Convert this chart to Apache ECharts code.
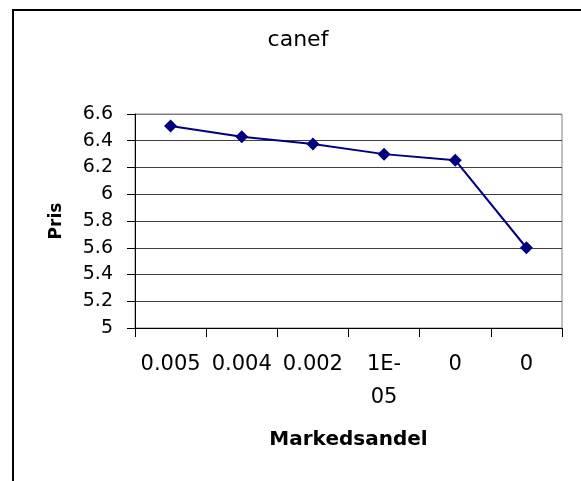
<!DOCTYPE html>
<html>
<head>
<meta charset="utf-8">
<script src="https://cdn.jsdelivr.net/npm/echarts@6/dist/echarts.min.js"></script>
<style>
html,body{margin:0;padding:0;background:#fff;}
#c{width:581px;height:481px;}
</style>
</head>
<body>
<div id="c"></div>
<script>
var titleText = 'canef';
var categories = ['0.005', '0.004', '0.002', '1E-\n05', '0', '0'];
var prices = [6.51, 6.43, 6.375, 6.30, 6.255, 5.60];
var yTicks = { min: 5, max: 6.6, interval: 0.2 };
var xName = 'Markedsandel';
var yName = 'Pris';

var F = 'DejaVu Sans';
var splitColors = [];
for (var i = 0; i < 8; i++) splitColors.push('#404040');
splitColors.push('#808080');

var chart = echarts.init(document.getElementById('c'), null, { renderer: 'canvas' });
chart.setOption({
  backgroundColor: '#ffffff',
  animation: false,
  title: {
    text: titleText,
    left: 298,
    top: 29,
    padding: 0,
    textAlign: 'center',
    textStyle: { fontFamily: F, fontSize: 22, fontWeight: 'normal', color: '#000' }
  },
  grid: {
    left: 135, right: 19, top: 114, bottom: 153,
    show: true, borderColor: '#808080', borderWidth: 1, backgroundColor: 'transparent'
  },
  xAxis: {
    type: 'category',
    data: categories,
    boundaryGap: true,
    name: xName,
    nameLocation: 'middle',
    nameGap: 102,
    nameTextStyle: { fontFamily: F, fontSize: 20, fontWeight: 'bold', color: '#000' },
    axisLine: { lineStyle: { color: '#000', width: 1 } },
    axisTick: { show: true, length: 9, lineStyle: { color: '#000' } },
    axisLabel: { fontFamily: F, fontSize: 21, color: '#000', margin: 20, lineHeight: 33, interval: 0 },
    splitLine: { show: false }
  },
  yAxis: {
    type: 'value',
    min: yTicks.min,
    max: yTicks.max,
    interval: yTicks.interval,
    name: yName,
    nameLocation: 'middle',
    nameGap: 70,
    nameRotate: 90,
    nameTextStyle: { fontFamily: F, fontSize: 17, fontWeight: 'bold', color: '#000' },
    axisLine: { show: true, lineStyle: { color: '#000', width: 1 } },
    axisTick: { show: true, length: 8, lineStyle: { color: '#000' } },
    axisLabel: { fontFamily: F, fontSize: 19, color: '#000', margin: 22 },
    splitLine: { show: true, lineStyle: { color: splitColors, width: 1 } }
  },
  series: [{
    type: 'line',
    data: prices,
    symbol: 'diamond',
    symbolSize: 13,
    lineStyle: { color: '#000080', width: 2 },
    itemStyle: { color: '#000080' },
    z: 5
  }],
  graphic: [
    { type: 'line', shape: { x1: 13, y1: 10, x2: 13, y2: 481 }, style: { stroke: '#000', lineWidth: 2 } },
    { type: 'line', shape: { x1: 12, y1: 10, x2: 581, y2: 10 }, style: { stroke: '#000', lineWidth: 2 } }
  ]
});
</script>
</body>
</html>
